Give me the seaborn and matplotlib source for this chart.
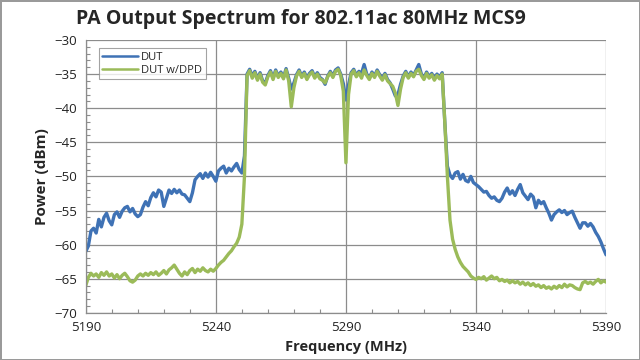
import numpy as np
import pandas as pd
import seaborn as sns
import matplotlib.pyplot as plt
from matplotlib.ticker import MultipleLocator

# frequency axis, 1 MHz steps
freq = list(range(5190, 5391))

dut = [
    -61.0, -60.2, -58.0, -57.6, -58.3, -56.3, -57.4, -56.0, -55.4, -56.5,   # 5190
    -57.1, -55.6, -55.2, -56.0, -55.1, -54.6, -54.4, -55.2, -54.7, -55.5,   # 5200
    -55.9, -55.6, -54.5, -53.7, -54.3, -53.1, -52.4, -53.0, -52.0, -52.3,   # 5210
    -54.4, -53.2, -52.0, -52.5, -51.9, -52.4, -52.0, -52.6, -52.7, -53.2,   # 5220
    -53.7, -52.4, -50.5, -50.0, -49.6, -50.3, -49.5, -50.1, -49.4, -50.0,   # 5230
    -50.7, -49.2, -48.8, -48.5, -49.5, -48.8, -49.2, -48.6, -48.1, -49.0,   # 5240
    -49.5, -47.0, -35.0, -34.3, -35.3, -34.6, -35.7, -34.8, -36.0, -36.3,   # 5250
    -35.2, -34.5, -35.6, -34.4, -35.3, -34.7, -35.5, -34.2, -35.6, -37.2,   # 5260
    -36.3, -35.1, -34.4, -35.3, -34.7, -35.6, -34.9, -34.5, -35.4, -34.8,   # 5270
    -35.5, -35.8, -36.5, -35.3, -34.6, -35.3, -34.4, -34.1, -35.0, -36.4,   # 5280
    -38.8, -36.6, -34.8, -34.3, -35.2, -34.6, -34.9, -33.6, -35.0, -35.6,   # 5290
    -34.7, -35.3, -34.4, -35.1, -35.7, -34.9, -35.8, -36.3, -37.2, -38.2,   # 5300
    -38.0, -36.5, -35.3, -34.6, -35.4, -34.7, -35.2, -34.4, -33.6, -35.0,   # 5310
    -35.6, -34.7, -35.4, -34.9, -35.7, -35.0, -35.5, -34.8, -42.0, -48.5,   # 5320
    -49.8, -50.3, -49.5, -49.3, -50.4, -49.7, -50.6, -50.8, -50.0, -50.9,   # 5330
    -51.2, -51.5, -51.9, -52.3, -52.2, -52.8, -53.2, -53.0, -53.5, -53.7,   # 5340
    -53.2, -52.3, -51.7, -52.6, -52.1, -52.8, -51.9, -51.2, -52.4, -52.9,   # 5350
    -53.4, -52.6, -53.0, -54.6, -53.5, -54.0, -53.7, -54.6, -55.4, -56.4,   # 5360
    -55.6, -55.2, -54.9, -55.3, -55.0, -55.6, -55.3, -55.1, -56.0, -56.8,   # 5370
    -57.6, -56.8, -56.8, -57.3, -56.9, -57.4, -58.2, -58.8, -59.6, -60.6,   # 5380
    -61.5,                                                                  # 5390
]

dut_dpd = [
    -66.0, -64.8, -64.2, -64.6, -64.3, -64.8, -64.1, -64.5, -64.0, -64.6,   # 5190
    -64.3, -64.9, -64.4, -65.0, -64.5, -64.2, -64.7, -65.3, -65.5, -65.2,   # 5200
    -64.6, -64.3, -64.6, -64.2, -64.5, -64.1, -64.4, -64.0, -64.5, -64.2,   # 5210
    -63.8, -64.3, -63.7, -63.4, -63.0, -63.6, -64.2, -64.6, -64.0, -64.4,   # 5220
    -63.8, -63.5, -64.1, -63.6, -63.9, -63.4, -63.8, -64.0, -63.6, -63.9,   # 5230
    -63.5, -63.0, -62.6, -62.3, -61.8, -61.3, -60.9, -60.3, -59.8, -58.9,   # 5240
    -57.0, -50.0, -35.2, -34.5, -35.6, -34.8, -35.9, -35.0, -36.2, -36.6,   # 5250
    -35.4, -34.7, -35.8, -34.6, -35.5, -34.9, -35.7, -34.4, -36.0, -39.8,   # 5260
    -37.0, -35.3, -34.6, -35.5, -34.9, -35.8, -35.1, -34.7, -35.6, -35.0,   # 5270
    -35.7, -35.9, -36.3, -35.4, -34.8, -35.5, -34.6, -34.3, -35.2, -37.5,   # 5280
    -48.0, -38.0, -35.0, -34.5, -35.4, -34.8, -35.6, -34.4, -35.2, -35.8,   # 5290
    -34.9, -35.5, -34.6, -35.3, -35.9, -35.1, -36.0, -36.4, -36.8, -37.8,   # 5300
    -39.6, -37.2, -35.5, -34.8, -35.6, -34.9, -35.4, -34.6, -34.3, -35.2,   # 5310
    -35.8, -34.9, -35.6, -35.1, -35.9, -35.2, -35.7, -35.0, -42.0, -50.0,   # 5320
    -56.4, -59.2, -60.7, -61.8, -62.6, -63.2, -63.6, -64.0, -64.6, -64.9,   # 5330
    -65.1, -64.8, -65.0, -64.7, -65.2, -64.9, -64.6, -65.0, -64.8, -65.3,   # 5340
    -65.1, -65.4, -65.2, -65.6, -65.3, -65.6, -65.4, -65.8, -65.5, -65.9,   # 5350
    -65.6, -66.0, -65.7, -66.1, -65.9, -66.3, -66.0, -66.4, -66.2, -66.5,   # 5360
    -66.1, -66.4, -66.0, -66.3, -65.8, -66.2, -65.9, -66.0, -66.3, -66.5,   # 5370
    -66.6, -65.6, -65.4, -65.7, -65.5, -65.8, -65.4, -65.1, -65.6, -65.3,   # 5380
    -65.5,                                                                  # 5390
]

series_names = ["DUT", "DUT w/DPD"]
colors = ["#3F72B5", "#9BBB59"]

df = pd.DataFrame({
    "Frequency (MHz)": freq * 2,
    "Power (dBm)": dut + dut_dpd,
    "series": [series_names[0]] * len(freq) + [series_names[1]] * len(freq),
})

sns.set_style("white")
plt.rcParams["font.family"] = ["Open Sans", "DejaVu Sans"]

fig = plt.figure(figsize=(6.4, 3.6), dpi=100)
fig.patch.set_edgecolor("#9a9a9a")
fig.patch.set_linewidth(2)
ax = fig.add_axes([0.134, 0.131, 0.813, 0.758])

sns.lineplot(data=df, x="Frequency (MHz)", y="Power (dBm)", hue="series",
             palette=colors, linewidth=2.4, ax=ax)

ax.set_xlim(5190, 5390)
ax.set_ylim(-70, -30)
ax.set_xticks([5190, 5240, 5290, 5340, 5390])
ax.set_yticks(range(-70, -29, 5))
ax.xaxis.set_minor_locator(MultipleLocator(10))
ax.yaxis.set_minor_locator(MultipleLocator(1))
ax.grid(True, which="major", color="#8c8c8c", linewidth=0.9)
ax.set_axisbelow(True)
ax.tick_params(axis="both", which="major", labelsize=9.5, length=0, pad=6,
               labelcolor="#222222")
ax.tick_params(axis="both", which="minor", direction="in", length=3,
               width=0.8, color="#8c8c8c", bottom=True, left=True)
for side in ["top", "right"]:
    ax.spines[side].set_visible(False)
for side in ["left", "bottom"]:
    ax.spines[side].set_color("#8c8c8c")
    ax.spines[side].set_linewidth(0.9)

ax.set_xlabel("Frequency (MHz)", fontsize=10.5, fontweight="bold", labelpad=4)
ax.set_ylabel("Power (dBm)", fontsize=11, fontweight="bold", labelpad=4)
fig.suptitle("PA Output Spectrum for 802.11ac 80MHz MCS9", fontsize=14,
             fontweight="bold", y=0.975, x=0.47)

leg = ax.legend(loc="upper left", fontsize=8, frameon=True, fancybox=False,
                borderpad=0.3, handlelength=3.2, handletextpad=0.3,
                labelspacing=0.2, bbox_to_anchor=(0.015, 0.99))
leg.get_frame().set_edgecolor("#8c8c8c")
leg.get_frame().set_linewidth(0.8)
for line in leg.get_lines():
    line.set_linewidth(1.8)

fig.savefig("out.png", dpi=100)
